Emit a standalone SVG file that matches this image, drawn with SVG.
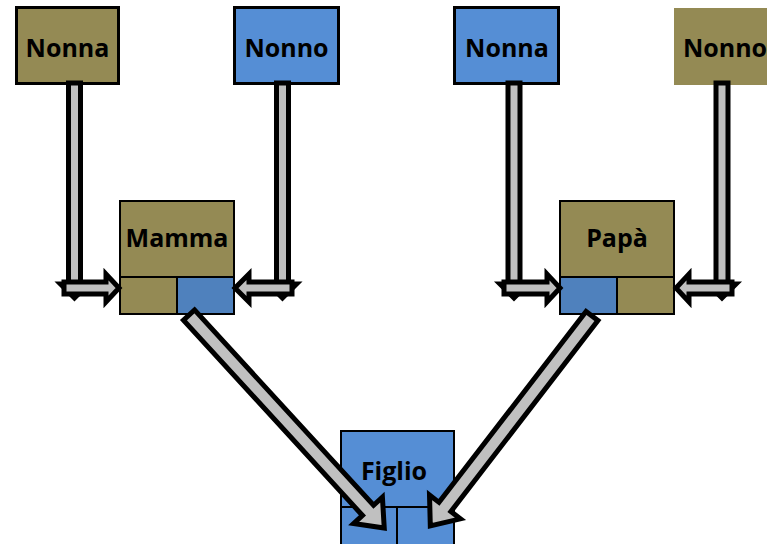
<svg xmlns="http://www.w3.org/2000/svg" width="767" height="544" viewBox="0 0 767 544">
<style>
.olive{fill:#948A54}
.blue{fill:#558ED5}
.dblue{fill:#4F81BD}
.b3{stroke:#000;stroke-width:3}
.ln{stroke:#000;stroke-width:2;fill:none}
.t{font-family:"Open Sans","Liberation Sans",sans-serif;font-weight:700;font-size:25px;fill:#000;text-anchor:middle}
.arr{fill:#C0C0C0;stroke:#000;stroke-width:5;stroke-linejoin:miter;stroke-miterlimit:10}
</style>
<rect width="767" height="544" fill="#fff"/>
<g id="nonna1"><rect class="olive b3" x="16.5" y="7.5" width="102" height="76"/><text class="t" x="67.5" y="57">Nonna</text></g>
<g id="nonno1"><rect class="blue b3" x="234.5" y="7.5" width="104" height="76"/><text class="t" x="286.5" y="57">Nonno</text></g>
<g id="nonna2"><rect class="blue b3" x="454.5" y="7.5" width="104" height="76"/><text class="t" x="507" y="57">Nonna</text></g>
<g id="nonno2"><rect class="olive" x="674" y="8" width="108" height="77"/><text class="t" x="725" y="57">Nonno</text></g>
<g id="mamma">
<rect class="olive" x="120" y="201" width="114" height="113"/>
<rect class="dblue" x="177" y="277" width="57" height="37"/>
<rect class="ln" x="120" y="201" width="114" height="113"/>
<line class="ln" x1="120" y1="277" x2="234" y2="277"/>
<line class="ln" x1="177" y1="277" x2="177" y2="314"/>
<text class="t" x="177" y="247">Mamma</text>
</g>
<g id="papa">
<rect class="olive" x="560" y="201" width="114" height="113"/>
<rect class="dblue" x="560" y="277" width="57" height="37"/>
<rect class="ln" x="560" y="201" width="114" height="113"/>
<line class="ln" x1="560" y1="277" x2="674" y2="277"/>
<line class="ln" x1="617" y1="277" x2="617" y2="314"/>
<text class="t" x="617" y="247">Papà</text>
</g>
<g id="figlio">
<rect class="blue" x="341" y="431" width="113" height="120"/>
<rect class="ln" x="341" y="431" width="113" height="120"/>
<line class="ln" x1="341" y1="507" x2="454" y2="507"/>
<line class="ln" x1="397" y1="507" x2="397" y2="544"/>
<text class="t" x="394" y="480">Figlio</text>
</g>
<g id="connectors">
<polygon class="arr" points="68.5,83 80.5,83 80.5,284 88.5,284 74.5,298 60.5,284 68.5,284"/>
<polygon class="arr" points="64,282 106,282 106,274 119,288 106,302 106,294 64,294"/>
<polygon class="arr" points="276.5,83 288.5,83 288.5,284 296.5,284 282.5,298 268.5,284 276.5,284"/>
<polygon class="arr" points="292,282 249,282 249,274 235,288 249,302 249,294 292,294"/>
<polygon class="arr" points="508,83 520,83 520,284 528,284 514,298 500,284 508,284"/>
<polygon class="arr" points="504,282 547,282 547,274 560,288 547,302 547,294 504,294"/>
<polygon class="arr" points="716,83 728,83 728,284 736,284 722,298 708,284 716,284"/>
<polygon class="arr" points="732,282 689,282 689,274 676,288 689,302 689,294 732,294"/>
<polygon class="arr" transform="translate(189,315) rotate(47.5)" points="0,-7.5 265,-7.5 265,-19.5 289,0 265,19.5 265,7.5 0,7.5"/>
<polygon class="arr" transform="translate(592,316) rotate(127.6)" points="0,-7.5 241,-7.5 241,-19.5 265,0 241,19.5 241,7.5 0,7.5"/>
</g>
</svg>
